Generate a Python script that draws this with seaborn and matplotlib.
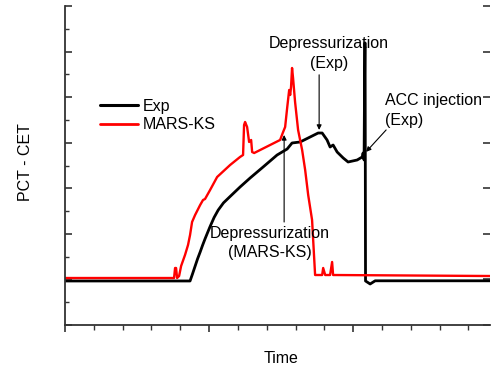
import matplotlib
matplotlib.use("Agg")
import matplotlib.pyplot as plt
import seaborn as sns
import pandas as pd
from matplotlib.ticker import MultipleLocator, NullFormatter
from matplotlib.lines import Line2D

# ---- data ----
exp_time = [0.0, 0.868, 0.885, 0.903, 0.920, 0.938, 0.955, 0.972, 0.990, 1.007,
            1.035, 1.063, 1.100, 1.146, 1.215, 1.285,
            1.375, 1.472, 1.507, 1.542, 1.576, 1.632, 1.688, 1.757, 1.785, 1.819,
            1.840, 1.861, 1.889, 1.931, 1.965, 2.028, 2.063, 2.069, 2.076, 2.081,
            2.083, 2.086, 2.118, 2.153, 2.95]
exp_val = [0.966, 0.966, 1.12, 1.29, 1.45, 1.60, 1.75, 1.89, 2.03, 2.16,
           2.36, 2.52, 2.68, 2.82, 3.028, 3.226,
           3.467, 3.730, 3.796, 3.862, 3.994, 4.016, 4.104, 4.213, 4.213, 4.060,
           3.906, 3.950, 3.796, 3.665, 3.577, 3.621, 3.687, 3.774, 3.621, 6.19,
           6.19, 0.966, 0.90, 0.97, 0.97]

mars_time = [0.0, 0.757, 0.764, 0.771, 0.778, 0.792, 0.806, 0.833, 0.854, 0.868,
             0.882, 0.903, 0.938, 0.958, 0.972, 1.007, 1.056, 1.146, 1.215, 1.236,
             1.243, 1.250, 1.264, 1.278, 1.292, 1.299, 1.313, 1.493, 1.514, 1.528,
             1.542, 1.556, 1.563, 1.569, 1.576, 1.583, 1.597, 1.618, 1.646, 1.667,
             1.688, 1.715, 1.736, 1.785, 1.792, 1.806, 1.840, 1.854, 1.861, 2.95]
mars_val = [1.031, 1.031, 1.251, 1.251, 1.031, 1.075, 1.295, 1.536, 1.756, 1.975,
            2.260, 2.414, 2.633, 2.743, 2.765, 2.962, 3.248, 3.511, 3.687, 3.731,
            4.389, 4.455, 4.345, 4.016, 4.060, 3.796, 3.774, 4.060, 4.235, 4.345,
            4.762, 5.157, 5.047, 5.223, 5.640, 5.420, 4.894, 4.279, 3.840, 3.401,
            2.853, 2.304, 1.097, 1.097, 1.251, 1.097, 1.097, 1.383, 1.097, 1.075]

series_names = ["Exp", "MARS-KS"]
series_colors = ["black", "#ff0000"]

df = pd.concat([
    pd.DataFrame({"Time": exp_time, "PCT - CET": exp_val, "series": series_names[0]}),
    pd.DataFrame({"Time": mars_time, "PCT - CET": mars_val, "series": series_names[1]}),
], ignore_index=True)

sns.set_style("ticks")
plt.rcParams["font.family"] = ["Liberation Sans", "DejaVu Sans"]
plt.rcParams["text.color"] = "black"
plt.rcParams["axes.labelcolor"] = "black"
FS = 11.5
plt.rcParams["font.size"] = FS

fig = plt.figure(figsize=(4.93, 3.71), dpi=100)
W, H = 493, 371
ax = fig.add_axes([65 / W, (H - 325) / H, (490 - 65) / W, (325 - 6) / H])

sns.lineplot(data=df, x="Time", y="PCT - CET", hue="series", hue_order=series_names,
             palette=series_colors, estimator=None, sort=False, ax=ax,
             legend=False)
lines = ax.get_lines()
lines[0].set_linewidth(2.0)
lines[1].set_linewidth(1.7)

ax.set_xlim(0, 2.95)
ax.set_ylim(0, 7)
ax.xaxis.set_major_locator(MultipleLocator(1))
ax.xaxis.set_minor_locator(MultipleLocator(0.2))
ax.yaxis.set_major_locator(MultipleLocator(1))
ax.yaxis.set_minor_locator(MultipleLocator(0.5))
ax.xaxis.set_major_formatter(NullFormatter())
ax.yaxis.set_major_formatter(NullFormatter())

for s in ["top", "right"]:
    ax.spines[s].set_visible(False)
for s in ["left", "bottom"]:
    ax.spines[s].set_color("#333333")
    ax.spines[s].set_linewidth(1.3)

ax.tick_params(axis="x", which="major", direction="out", length=5, width=1.2, color="#333333")
ax.tick_params(axis="x", which="minor", direction="out", length=3.5, width=1.0, color="#333333")
ax.tick_params(axis="y", which="major", direction="in", length=5, width=1.2, color="#333333",
               left=True, right=True)
ax.tick_params(axis="y", which="minor", direction="in", length=3, width=1.0, color="#333333",
               left=True, right=False)

ax.set_xlabel("Time", fontsize=FS, color="black")
ax.set_ylabel("PCT - CET", fontsize=FS, color="black")
ax.xaxis.set_label_coords(0.508, -0.082)
ax.yaxis.set_label_coords(-0.075, 0.51)

# legend
handles = [Line2D([], [], color=series_colors[0], lw=2.2),
           Line2D([], [], color=series_colors[1], lw=2.0)]
leg = ax.legend(handles, series_names, loc="center left", frameon=False,
                bbox_to_anchor=(100 / W, 1 - 115.5 / H), bbox_transform=fig.transFigure,
                borderpad=0, borderaxespad=0, handlelength=2.4, handletextpad=0.25,
                labelspacing=0.2, fontsize=FS)
for t in leg.get_texts():
    t.set_color("black")

arrow_kw = dict(arrowstyle="-|>", lw=0.8, color="black", mutation_scale=7,
                shrinkA=0, shrinkB=0)
ax.text(1.830, 5.96, "Depressurization\n(Exp)", ha="center", va="center",
        multialignment="center", fontsize=FS, linespacing=1.4, color="black")
ax.annotate("", xy=(1.764, 4.28), xytext=(1.764, 5.49), arrowprops=arrow_kw)

ax.text(2.222, 4.70, "ACC injection\n(Exp)", ha="left", va="center",
        multialignment="left", fontsize=FS, linespacing=1.4, color="black")
ax.annotate("", xy=(2.090, 3.80), xytext=(2.229, 4.28), arrowprops=arrow_kw)

ax.text(1.42, 1.80, "Depressurization\n(MARS-KS)", ha="center", va="center",
        multialignment="center", fontsize=FS, linespacing=1.3, color="black")
ax.annotate("", xy=(1.521, 4.17), xytext=(1.521, 2.26), arrowprops=arrow_kw)

fig.savefig("out.png", dpi=100)
